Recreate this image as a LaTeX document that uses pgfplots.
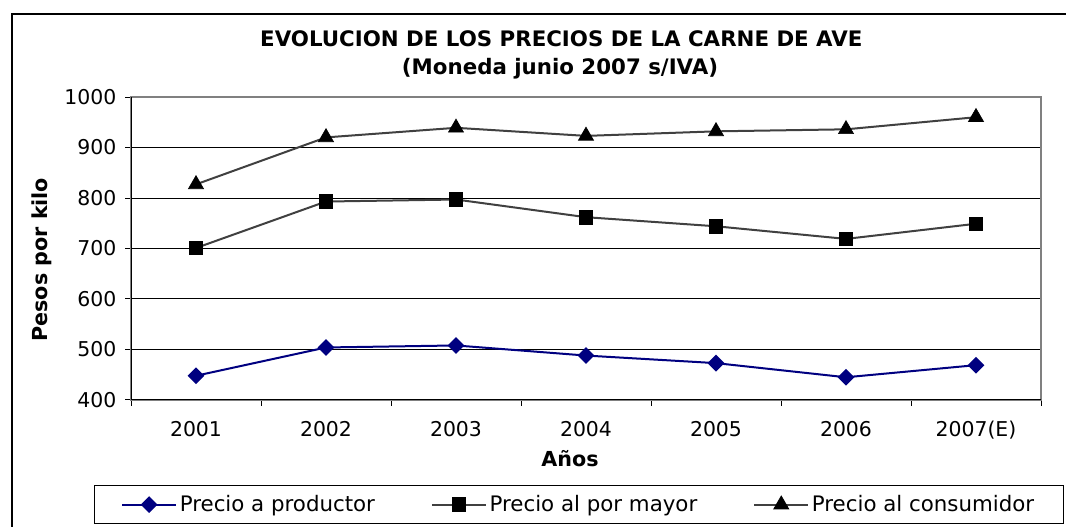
\documentclass[border=0pt]{standalone}
\usepackage{fontspec}
\setmainfont{DejaVu Sans}
\usepackage{pgfplots}
\pgfplotsset{compat=1.18}
\definecolor{navy}{HTML}{000080}
\definecolor{serie}{HTML}{404040}

\begin{document}
\begin{tikzpicture}
% 1 px of the reference = 0.75pt
\path[use as bounding box] (0,0) rectangle (799.5pt,395.25pt);
\clip (0,0) rectangle (799.5pt,395.25pt);
\draw[black,line width=0.9pt] (9pt,-20pt) rectangle (830pt,384.75pt);

\node[anchor=base,font=\bfseries\fontsize{16pt}{18pt}\selectfont] at (421pt,360pt)
  {EVOLUCION DE LOS PRECIOS DE LA CARNE DE AVE};
\node[anchor=base,font=\bfseries\fontsize{16pt}{18pt}\selectfont] at (420pt,339pt)
  {(Moneda junio 2007 s/IVA)};
\node[rotate=90,anchor=center,font=\bfseries\fontsize{15.5pt}{18pt}\selectfont] at (31.5pt,200.5pt)
  {Pesos por kilo};
\node[anchor=base,font=\bfseries\fontsize{15.5pt}{18pt}\selectfont] at (427.5pt,45pt) {Años};

\begin{axis}[
  at={(98.25pt,95.25pt)},anchor=south west,
  scale only axis,width=682.5pt,height=227.25pt,
  xmin=0.5,xmax=7.5,ymin=400,ymax=1000,
  xtick={1,...,7},
  xticklabels={2001,2002,2003,2004,2005,2006,2007(E)},
  minor xtick={0.5,1.5,...,7.5},
  ytick={400,500,...,1000},
  /pgf/number format/1000 sep={},
  /pgf/number format/assume math mode=true,
  tick pos=left,tick align=outside,
  major tick length=4.5pt,minor tick length=4.5pt,
  major x tick style={draw=none},
  every tick/.style={black,line width=0.75pt},
  ymajorgrids,
  grid style={black,line width=0.75pt},
  axis line style={gray,line width=1.2pt},
  ticklabel style={font=\fontsize{15.3pt}{18pt}\selectfont},
  yticklabel style={xshift=-3pt},
  xticklabel style={yshift=-8pt},
  legend columns=3,
  legend style={at={(rel axis cs:0,0)},anchor=north west,
    xshift=-27.75pt,yshift=-63.75pt,
    draw=black,line width=0.75pt,
    font=\fontsize{16pt}{18pt}\selectfont,
    inner xsep=20pt,inner ysep=5.5pt,
    nodes={inner xsep=2pt},
    /tikz/every even column/.append style={column sep=40pt}},
  legend image code/.code={
    \draw[mark repeat=2,mark phase=2,#1] plot coordinates {(0pt,0pt) (20.25pt,0pt) (40.5pt,0pt)};
  },
]
\addplot[navy,line width=1.5pt,mark=square*,mark size=3.7pt,
  mark options={rotate=45,fill=navy,solid}] coordinates {
  (1,448) (2,504) (3,508) (4,488) (5,473) (6,445) (7,469)};
\addlegendentry{Precio a productor}
\addplot[serie,line width=1.5pt,mark=square*,mark size=5.1pt,
  mark options={black,fill=black,line width=0.5pt}] coordinates {
  (1,701) (2,793) (3,797) (4,762) (5,744) (6,719) (7,749)};
\addlegendentry{Precio al por mayor}
\addplot[serie,line width=1.5pt,mark=triangle*,mark size=6.5pt,
  mark options={black,fill=black,line width=0.5pt}] coordinates {
  (1,827) (2,920) (3,939) (4,923) (5,932) (6,936) (7,960)};
\addlegendentry{Precio al consumidor}
\draw[black,line width=1.2pt] (rel axis cs:0,1) -- (rel axis cs:0,0) -- (rel axis cs:1,0);
\end{axis}
\end{tikzpicture}
\end{document}
